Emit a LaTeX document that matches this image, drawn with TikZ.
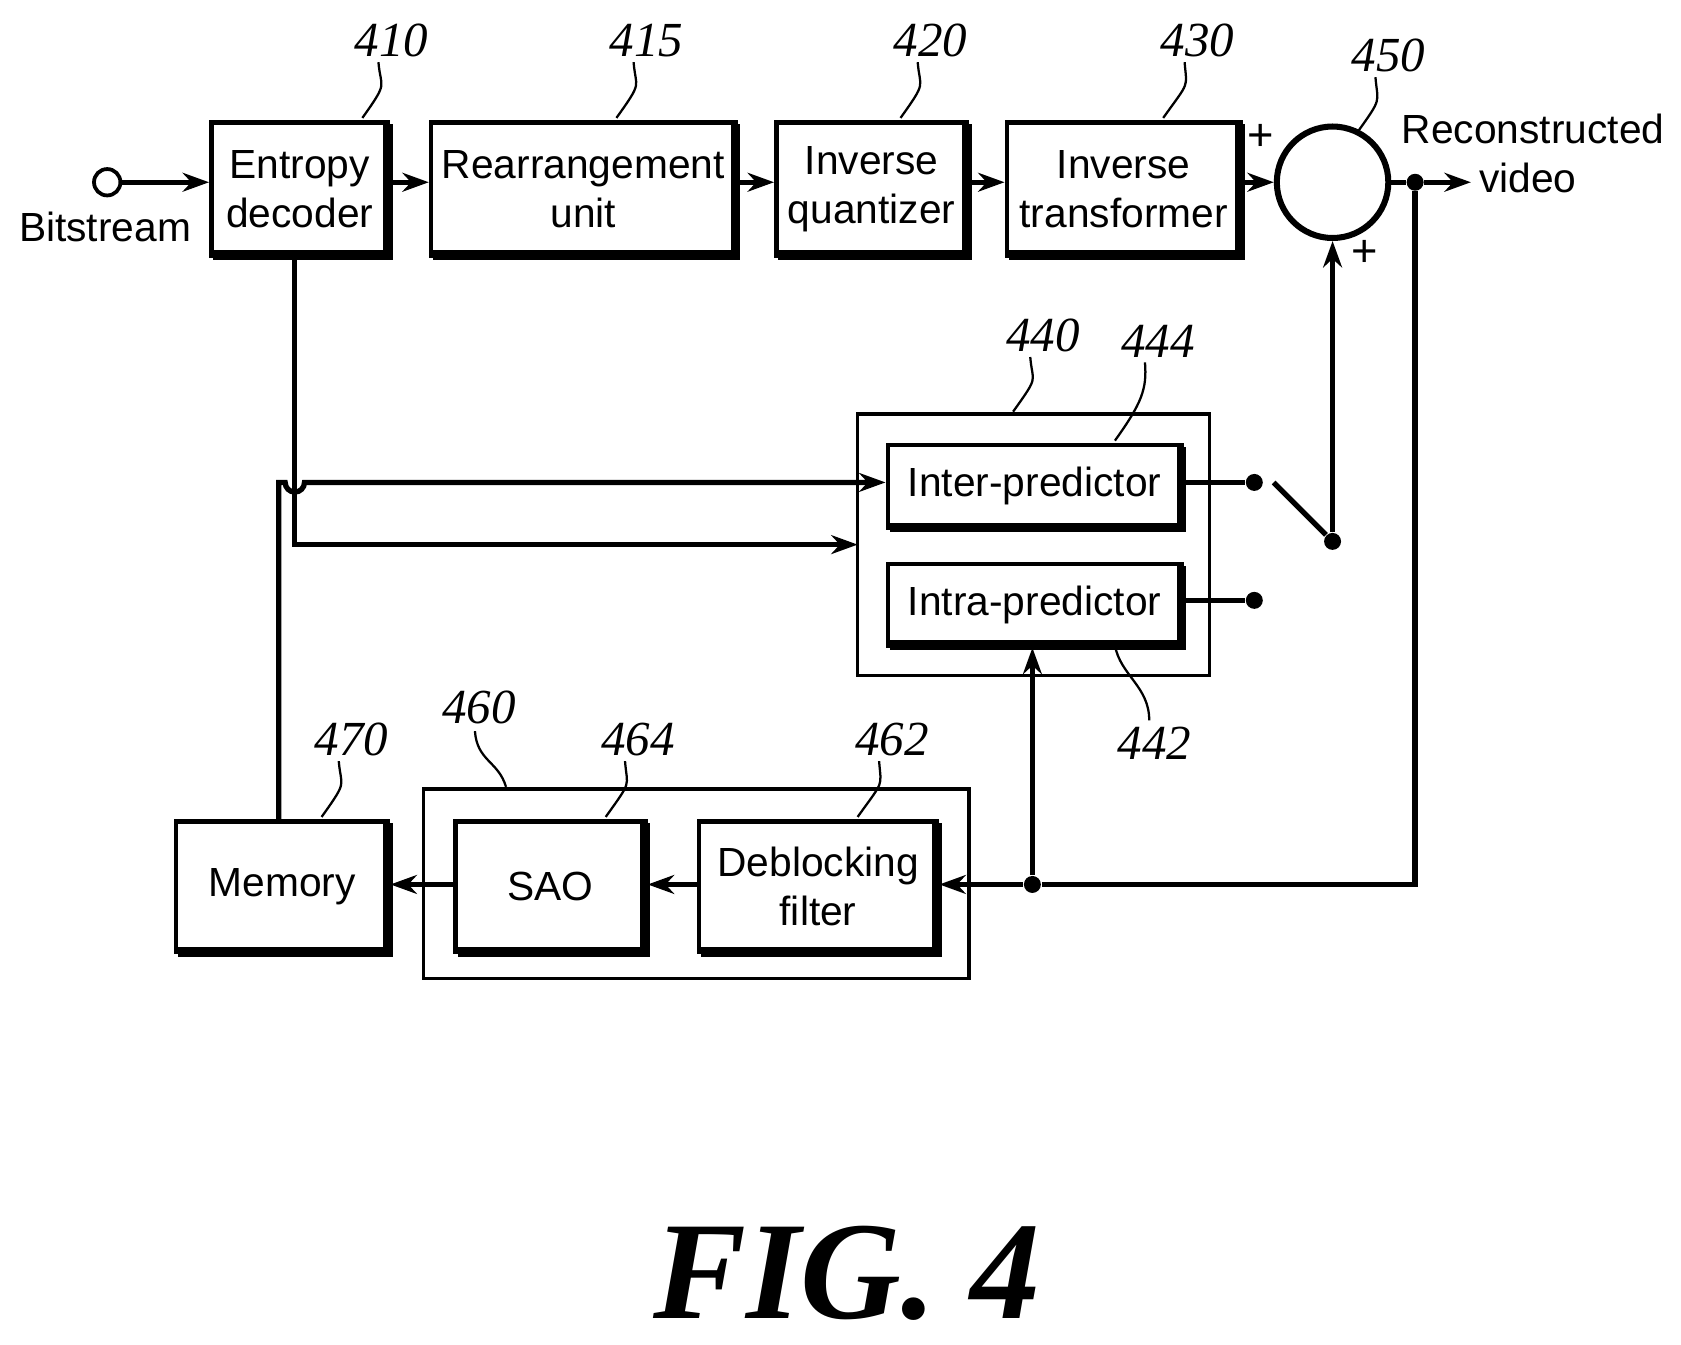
\documentclass[tikz,border=0pt]{standalone}
\usepackage{fontspec}
\setmainfont{Liberation Sans}
\newfontfamily\numfont{Liberation Serif}
\usetikzlibrary{arrows.meta}
\begin{document}
\begin{tikzpicture}[x=0.01cm,y=-0.01cm,
  blk/.style={draw,line width=1.2pt,align=center,font=\fontsize{10.8}{13}\selectfont,inner sep=0pt,anchor=north west},
  shadow/.style={line width=2.6pt},
  outer/.style={draw,line width=0.9pt},
  arr/.style={line width=1.4pt,-{Stealth[length=7pt,width=5pt]}},
  ln/.style={line width=1.4pt},
  num/.style={font=\numfont\itshape\fontsize{13}{14}\selectfont},
  lead/.style={line width=0.6pt},
  dot/.style={circle,fill,inner sep=0pt,minimum size=4.5pt}]
\useasboundingbox (0,0) rectangle (1568,1254);
\newcommand{\myblk}[6]{% name x1 y1 x2 y2 text
  \node[blk,minimum width=(#4-#2)*0.01cm,minimum height=(#5-#3)*0.01cm] (#1) at (#2,#3) {#6};
  \draw[shadow] (#4+2,#3+4) -- (#4+2,#5+2) -- (#2+4,#5+2);}
\myblk{ent}{195}{112}{360}{236}{Entropy\\decoder}
\myblk{rea}{400}{112}{684}{236}{Rearrangement\\unit}
\myblk{iq}{722}{112}{900}{236}{Inverse\\quantizer}
\myblk{it}{937}{112}{1155}{236}{Inverse\\transformer}
\draw[outer] (800,386) rectangle (1128,630);
\myblk{inter}{826}{413}{1100}{490}{Inter-predictor}
\myblk{intra}{826}{524}{1100}{600}{Intra-predictor}
\draw[outer] (395,736) rectangle (904,913);
\myblk{sao}{423}{764}{600}{886}{SAO}
\myblk{dbf}{650}{764}{872}{886}{Deblocking\\filter}
\myblk{mem}{162}{764}{360}{886}{Memory}
\node[draw,circle,line width=1.6pt,minimum size=104*0.01cm,inner sep=0pt] (sum) at (1243,170) {};
% bitstream
\node[draw,circle,line width=1pt,inner sep=0pt,minimum size=7pt] (bs) at (100,170) {};
\node[font=\fontsize{10.8}{13}\selectfont] (bst) at (98,212) {Bitstream};
\draw[arr] (bs) -- (ent.west|-bs);
\draw[arr] (ent.east|-bs) -- (rea.west|-bs);
\draw[arr] (rea.east|-bs) -- (iq.west|-bs);
\draw[arr] (iq.east|-bs) -- (it.west|-bs);
\draw[arr] (it.east|-sum) -- (sum.west);
\coordinate[dot] (d1) at (1320,170);
\coordinate (out) at (1372,170);
\draw[ln] (sum.east) -- (d1);
\draw[arr] (d1) -- (out);
\node[font=\fontsize{10.8}{13}\selectfont,align=left] (rv) at (1430,143) {Reconstructed\\\hspace*{1.9em}video};
\node[font=\fontsize{12}{14}\selectfont] (p1) at (1176,128) {+};
\node[font=\fontsize{12}{14}\selectfont] (p2) at (1273,236) {+};
% feedback
\coordinate[dot] (d2) at (963,825);
\draw[ln] (d1) -- (1320,825) -- (d2);
\draw[arr] (d2) -- (dbf.east|-d2);
\draw[arr] (d2) -- (intra.south-|d2);
\draw[arr] (dbf.west|-d2) -- (sao.east|-d2);
\draw[arr] (sao.west|-d2) -- (mem.east|-d2);
\draw[arr] (mem.north-|260,0) -- (260,450) -- (266,450) arc[start angle=180,end angle=0,radius=9] -- (inter.west|-0,450);
\draw[arr] (ent.south-|275,0) -- (275,508) -- (800,508);
% switch
\coordinate[dot] (s1) at (1170,450);
\coordinate[dot] (s2) at (1170,560);
\coordinate[dot] (s3) at (1243,505);
\draw[ln] (inter.east|-s1) -- (s1);
\draw[ln] (intra.east|-s2) -- (s2);
\draw[ln] (1188,450) -- (s3);
\draw[arr] (s3) -- (sum.south);
% numbers
\newcommand{\lab}[5]{\node[num] (n#1) at (#2,#3) {#1};
 \draw[lead] (#2-12,#3+20) .. controls (#2-10,#3+45) and (#4+25,#5-35) .. (#4,#5);}
\lab{410}{365}{38}{338}{110}
\lab{415}{603}{38}{575}{110}
\lab{420}{868}{38}{840}{110}
\lab{430}{1117}{38}{1085}{110}
\lab{450}{1295}{52}{1265}{125}
\lab{440}{973}{313}{945}{384}
\lab{444}{1080}{318}{1040}{411}
\lab{464}{595}{690}{565}{762}
\lab{462}{832}{690}{800}{762}
\lab{470}{328}{690}{300}{762}
\node[num] (n460) at (447,660) {460};
\draw[lead] (443,682) .. controls (445,710) and (465,710) .. (472,734);
\node[num] (n442) at (1077,693) {442};
\draw[lead] (1072,672) .. controls (1072,640) and (1045,630) .. (1040,602);
\node[font=\numfont\bfseries\itshape\fontsize{37}{40}\selectfont] (fig) at (790,1188) {FIG.\ 4};
\end{tikzpicture}
\end{document}
